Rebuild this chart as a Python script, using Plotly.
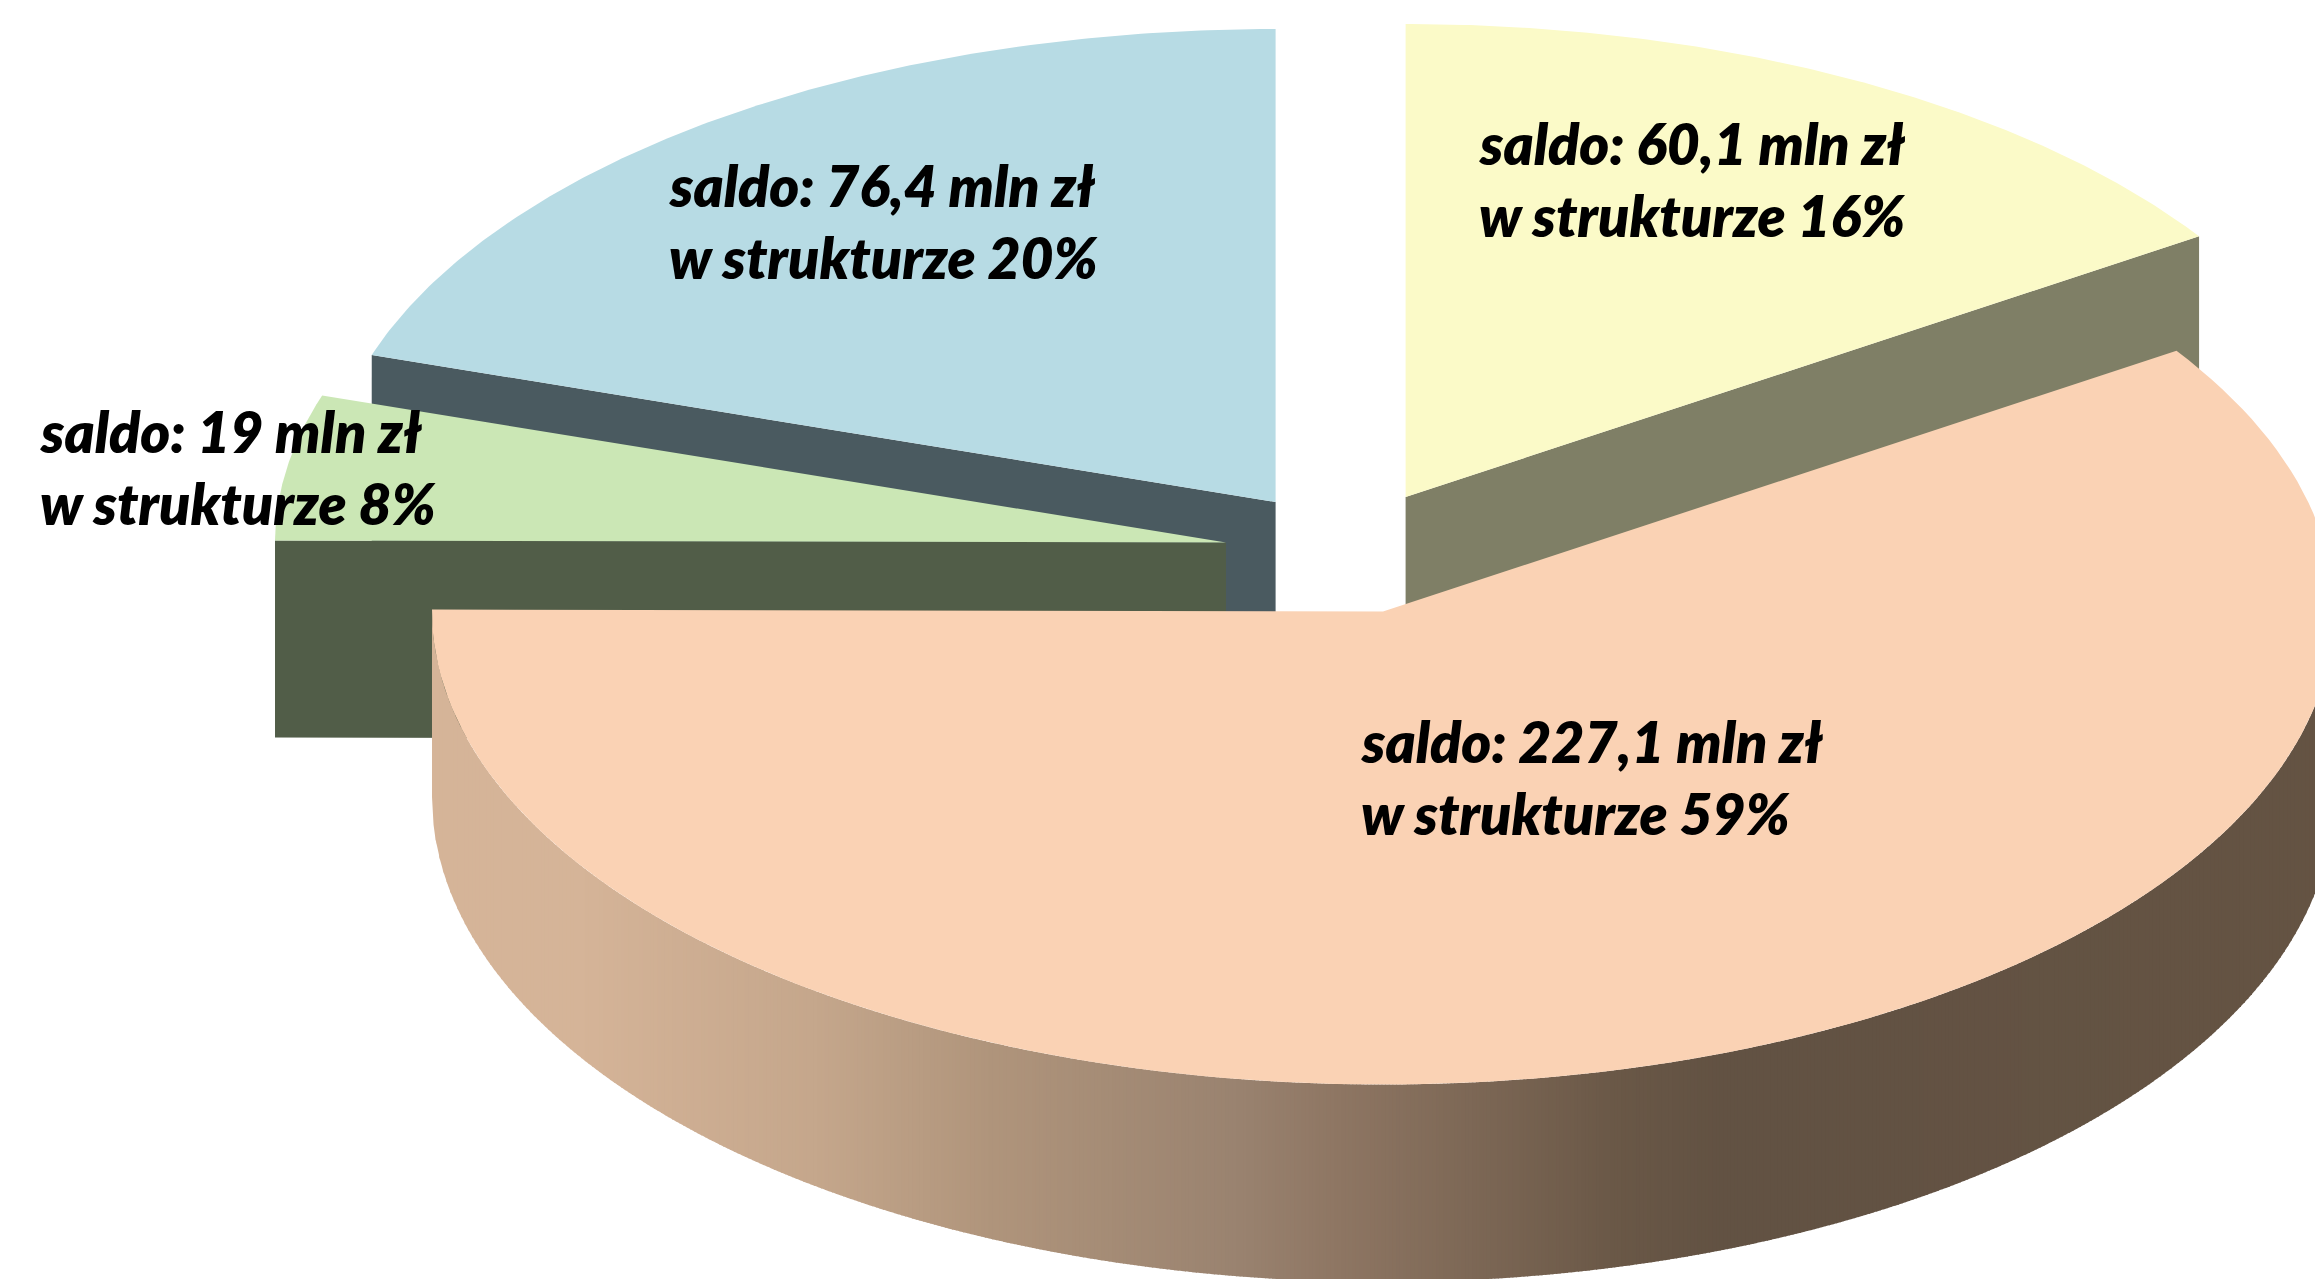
import numpy as np
import plotly.graph_objects as go

# ---- data ----
saldo = [60.1, 227.1, 19.0, 76.4]          # mln zl: clockwise from 12 o'clock
struktura = [16, 59, 8, 20]                # printed share, %
line1 = [f"saldo: {str(v).replace('.', ',').removesuffix(',0')} mln zł" for v in saldo]
line2 = [f"w strukturze {p}%" for p in struktura]
top_colors = ["#FBFAC8", "#FAD2B4", "#CBE7B5", "#B7DBE4"]
side_colors = ["#7F7F66", None, "#515D48", "#4A5A60"]
# ---- side gradient of the large slice (x position, colour) ----
grad_x = [430, 585, 816, 990, 1237, 1342, 1620, 1725, 2320]
grad_c = ["#D5B498", "#D5B498", "#C5A78C", "#B0957C", "#9A8370", "#8E7663", "#6A5847", "#625243", "#655443"]

# ---- projection geometry ----
W, H = 2315, 1279
RX, RY, DEPTH = 951, 473, 197
LOW_CY, LOW_RY = 797, 485
APEX = [(1405.6, 497), (1383, 611.5), (1226, 542.5), (1275.6, 502)]
TEXT_X = [1479, 1361, 40, 669]
TEXT_Y1 = [165, 763, 453, 207]
LINE_STEP = 72
FONT = 57

total = sum(saldo)
edges = np.concatenate([[0], np.cumsum(saldo) / total * 360])


def rim(apex, deg):
    t = np.radians(deg)
    return apex[0] + RX * np.sin(t), apex[1] - RY * np.cos(t)


def hex2rgb(c):
    return [int(c[i:i + 2], 16) for i in (1, 3, 5)]


def poly(xs, ys, color, line=0):
    return go.Scatter(x=list(xs), y=list(ys), mode="lines", fill="toself",
                      fillcolor=color, hoverinfo="skip", showlegend=False,
                      line=dict(color=color, width=line))


fig = go.Figure()


def radial_wall(i, deg):
    a = APEX[i]
    x, y = rim(a, deg)
    fig.add_trace(poly([a[0], x, x, a[0], a[0]],
                       [a[1], y, y + DEPTH, a[1] + DEPTH, a[1]], side_colors[i]))


def top(i):
    a = APEX[i]
    d = np.linspace(edges[i], edges[i + 1], 160)
    x, y = rim(a, d)
    fig.add_trace(poly(np.r_[a[0], x, a[0]], np.r_[a[1], y, a[1]], top_colors[i]))


radial_wall(3, edges[3])
radial_wall(3, 360)
radial_wall(0, edges[1])
top(3)
top(0)
radial_wall(2, edges[2])
top(2)

# outer wall of the large slice, as thin vertical strips shaded by x
a = APEX[1]
g = np.array([hex2rgb(c) for c in grad_c], float)
xs = np.linspace(a[0] - RX, min(a[0] + RX, W + 5), 520)
for x0, x1 in zip(xs[:-1], xs[1:]):
    xx = np.linspace(x0, x1 + 1.0, 4)
    u = np.clip((xx - a[0]) / RX, -1, 1)
    s = np.sqrt(1 - u ** 2)
    c = [np.interp((x0 + x1) / 2, grad_x, g[:, k]) for k in range(3)]
    col = "rgb(%d,%d,%d)" % tuple(c)
    fig.add_trace(poly(np.r_[xx, xx[::-1]],
                       np.r_[LOW_CY + LOW_RY * s, (a[1] + RY * s)[::-1]], col))
top(1)

annos = []
for i in range(4):
    for j, t in enumerate((line1[i], line2[i])):
        annos.append(dict(x=TEXT_X[i], y=TEXT_Y1[i] + j * LINE_STEP - 0.38 * FONT,
                          text=f"<i>{t}</i>", showarrow=False, xanchor="left",
                          yanchor="middle", xshift=-2,
                          font=dict(family="Lato", size=FONT, weight=800, color="#000000")))

fig.update_layout(width=W, height=H, margin=dict(l=0, r=0, t=0, b=0),
                  paper_bgcolor="white", plot_bgcolor="white", annotations=annos,
                  xaxis=dict(range=[0, W], visible=False, fixedrange=True),
                  yaxis=dict(range=[H, 0], visible=False, fixedrange=True))
fig.write_html("out.html", config={"displayModeBar": False},
               post_script="document.body.style.margin='0';document.body.style.overflow='hidden';")
